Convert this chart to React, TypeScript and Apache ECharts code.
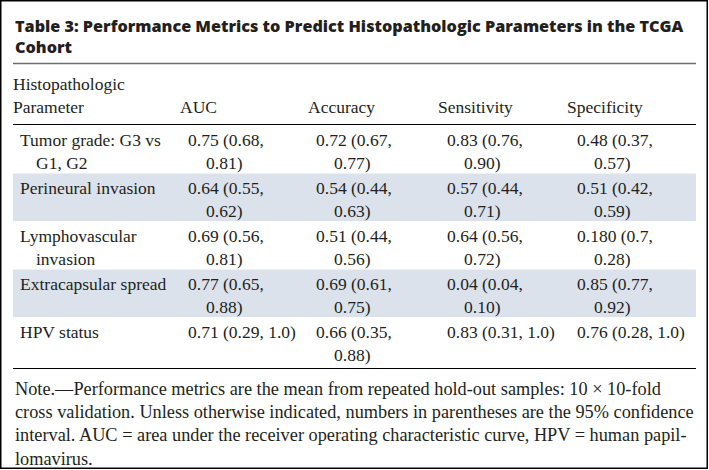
import React, { useEffect, useRef } from "react";
import * as echarts from "echarts";

const titleLines = [
  "Table 3: Performance Metrics to Predict Histopathologic Parameters in the TCGA",
  "Cohort",
];
const headers = ["Histopathologic\nParameter", "AUC", "Accuracy", "Sensitivity", "Specificity"];
const parameters = [
  "Tumor grade: G3 vs\nG1, G2",
  "Perineural invasion",
  "Lymphovascular\ninvasion",
  "Extracapsular spread",
  "HPV status",
];
const auc = ["0.75 (0.68,\n0.81)", "0.64 (0.55,\n0.62)", "0.69 (0.56,\n0.81)", "0.77 (0.65,\n0.88)", "0.71 (0.29, 1.0)"];
const accuracy = ["0.72 (0.67,\n0.77)", "0.54 (0.44,\n0.63)", "0.51 (0.44,\n0.56)", "0.69 (0.61,\n0.75)", "0.66 (0.35,\n0.88)"];
const sensitivity = ["0.83 (0.76,\n0.90)", "0.57 (0.44,\n0.71)", "0.64 (0.56,\n0.72)", "0.04 (0.04,\n0.10)", "0.83 (0.31, 1.0)"];
const specificity = ["0.48 (0.37,\n0.57)", "0.51 (0.42,\n0.59)", "0.180 (0.7,\n0.28)", "0.85 (0.77,\n0.92)", "0.76 (0.28, 1.0)"];
const noteLines = [
  "Note.\u2014Performance metrics are the mean from repeated hold-out samples: 10 \u00d7 10-fold",
  "cross validation. Unless otherwise indicated, numbers in parentheses are the 95% confidence",
  "interval. AUC = area under the receiver operating characteristic curve, HPV = human papil-",
  "lomavirus.",
];

const SERIF = "Liberation Serif, serif";
const SANS = "Open Sans, sans-serif";
const INK = "#231f20";
const SHADE = "#dbe2ec";

export default function App() {
  const ref = useRef<HTMLDivElement>(null);
  useEffect(() => {
    document.body.style.margin = "0";
    const chart = echarts.init(ref.current!, null, { renderer: "svg", width: 709, height: 470 });
    const els: any[] = [];
    const txt = (text: string, x: number, y: number, size: number, family: string, weight: any = "normal") => {
      els.push({
        type: "text",
        x,
        y,
        silent: true,
        style: {
          text,
          fill: INK,
          font: `${weight} ${size}px ${family}`,
          textAlign: "left",
          textVerticalAlign: "middle",
          align: "left",
          verticalAlign: "middle",
        },
      });
    };
    const hline = (y: number, color: string, w: number) => {
      els.push({ type: "line", silent: true, shape: { x1: 13, y1: y, x2: 696, y2: y }, style: { stroke: color, lineWidth: w } });
    };

    // frame
    els.push({ type: "rect", silent: true, shape: { x: 0.75, y: 0.75, width: 706.5, height: 467.5 }, style: { fill: "#fff", stroke: "#000", lineWidth: 1.5 } });

    // title
    titleLines.forEach((t, i) => txt(t, 15, 25.5 + i * 21.5, 16.2, SANS, 800));
    hline(63.5, "#6d6e71", 1.5);

    // header
    const headX = [13, 180, 308, 438, 567];
    const dataX = [20, 188, 316, 447, 577];
    const indent = [16, 18, 18, 17, 17];
    const FS = 17.5;
    headers.forEach((h, c) => {
      const lines = h.split("\n");
      lines.forEach((l, k) => {
        const y = 107 - (lines.length - 1 - k) * 23;
        txt(l, headX[c], y, FS, SERIF);
      });
    });
    hline(124.5, "#000", 1);

    // rows
    const cols = [parameters, auc, accuracy, sensitivity, specificity];
    const rowTop = 125;
    const rowH = 48;
    parameters.forEach((_, r) => {
      const top = rowTop + r * rowH;
      if (r % 2 === 1) {
        els.push({ type: "rect", silent: true, shape: { x: 13, y: top + 0.5, width: 683, height: rowH - 0.5 }, style: { fill: SHADE } });
      }
    });
    parameters.forEach((_, r) => {
      const top = rowTop + r * rowH;
      cols.forEach((col, c) => {
        col[r].split("\n").forEach((l, k) => {
          txt(l, dataX[c] + (k > 0 ? indent[c] : 0), top + 15 + k * 23, FS, SERIF);
        });
      });
    });
    hline(368.5, "#000", 1.2);

    // note
    noteLines.forEach((l, i) => txt(l, 15, 389 + i * 23.2, 18.3, SERIF));

    chart.setOption({ animation: false, graphic: { elements: els } });
    return () => chart.dispose();
  }, []);
  return <div ref={ref} style={{ position: "absolute", left: 0, top: 0, width: 709, height: 470 }} />;
}
